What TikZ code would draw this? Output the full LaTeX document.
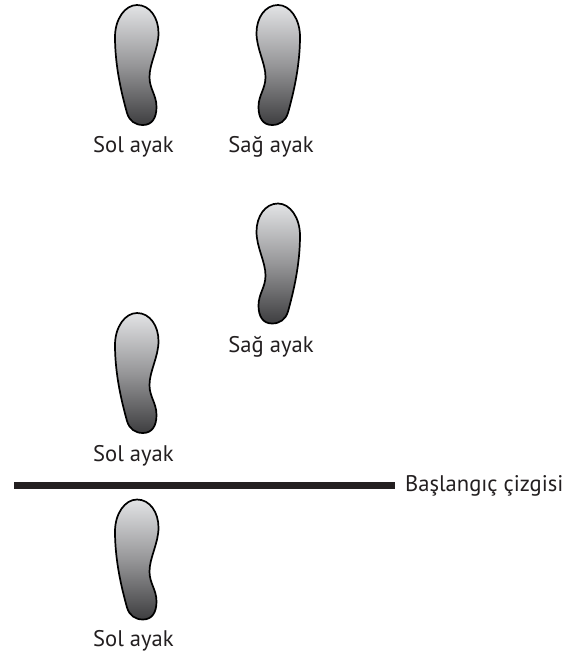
\documentclass[tikz,border=0pt]{standalone}
\usepackage{fontspec}
\setmainfont{PT Sans}
\definecolor{ink}{RGB}{35,31,32}
\definecolor{ftop}{RGB}{226,227,229}
\definecolor{fmid}{RGB}{150,150,152}
\definecolor{fbot}{RGB}{62,62,64}
\tikzset{
  x=1pt,y=-1pt,
  lbl/.style={text=ink,font=\fontsize{22.6}{26}\selectfont,inner sep=0pt,anchor=base},
  footline/.style={draw=black,line width=1.7pt,line join=round,top color=ftop,bottom color=fbot,middle color=fmid},
}
\newcommand{\footpath}{(0,0) .. controls (13,0) and (21.5,13) .. (21.5,28) .. controls (21.5,44) and (12.5,58) .. (12.5,72) .. controls (12.5,84) and (19.5,90) .. (19.5,102) .. controls (19.5,113) and (15,120) .. (6,120) .. controls (-2,120) and (-7.5,116) .. (-10,108) .. controls (-15,90) and (-22,62) .. (-22,32) .. controls (-22,14) and (-12,0) .. (0,0) -- cycle}
\begin{document}
\begin{tikzpicture}
\useasboundingbox (0,0) rectangle (569,655);
\path[footline,shift={(137,5)}] \footpath;
\path[footline,shift={(278,5)},xscale=-1] \footpath;
\path[footline,shift={(278,203.5)},xscale=-1] \footpath;
\path[footline,shift={(137,313)}] \footpath;
\path[footline,shift={(137,499.5)}] \footpath;
\node[lbl] (a) at (133.5,152.5) {Sol ayak};
\node[lbl] (b) at (271,152.5) {Sağ ayak};
\node[lbl] (c) at (271,352) {Sağ ayak};
\node[lbl] (d) at (133.5,461.5) {Sol ayak};
\node[lbl] (e) at (133.5,646.5) {Sol ayak};
\node[lbl,anchor=base west] (f) at (405,491) {Başlangıç çizgisi};
\fill[ink] (14,482) rectangle (395,489);
\end{tikzpicture}
\end{document}
